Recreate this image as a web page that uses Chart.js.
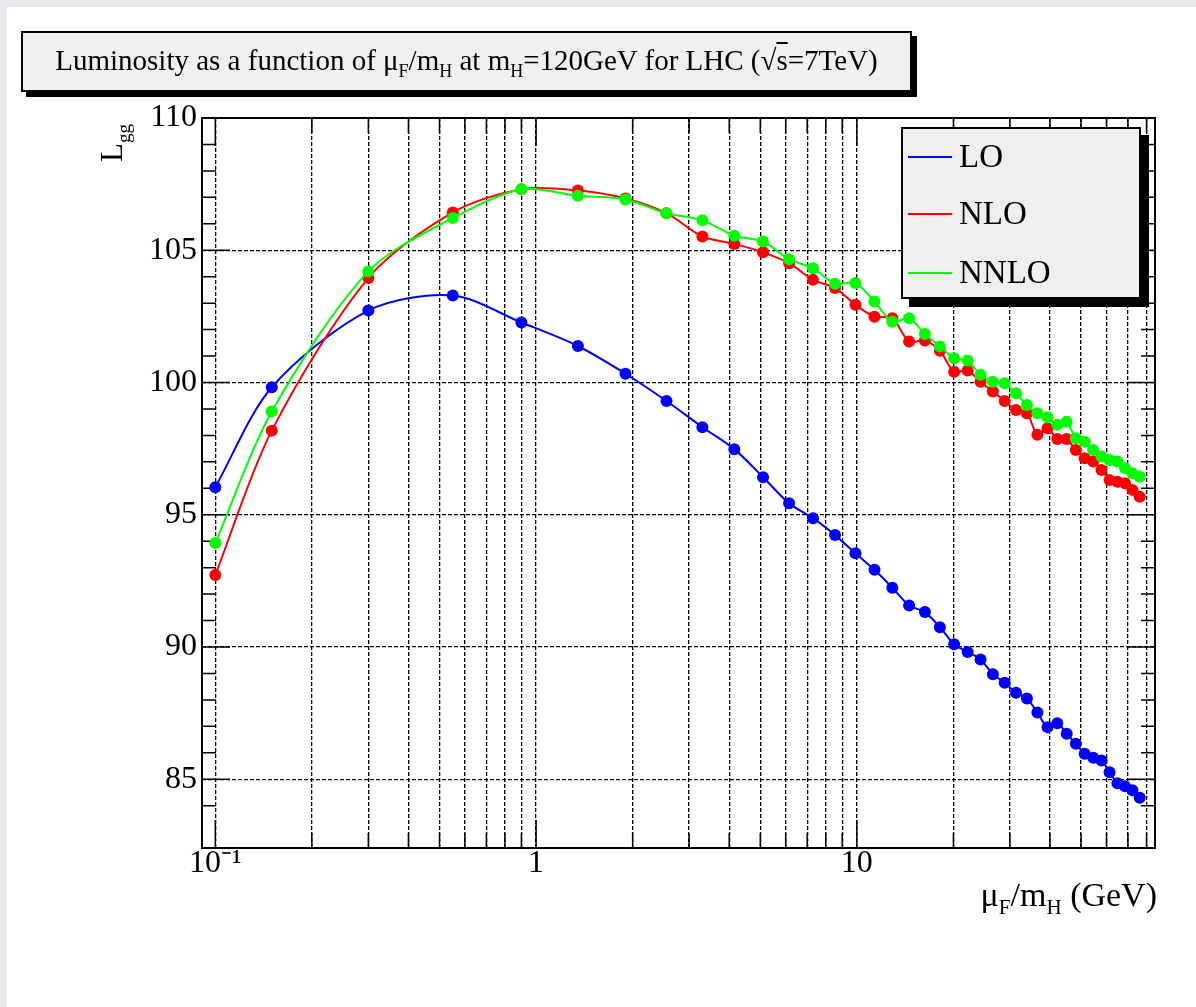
<!DOCTYPE html>
<html>
<head>
<meta charset="utf-8">
<script src="https://cdn.jsdelivr.net/npm/chart.js@4.4.1/dist/chart.umd.min.js"></script>
<style>
  body { margin: 0; background: #e6e7eb; font-family: 'Liberation Serif', serif; }
  #paper { position: absolute; left: 7px; top: 7px; right: 0; bottom: 0; background: #fff; }
  #wrap { position: absolute; left: 0; top: 0; width: 1196px; height: 1007px; }
  .sub { font-size: 0.62em; position: relative; top: 0.4em; }
  #ttl { position: absolute; left: 21px; top: 31px; width: 887px; height: 57px; border: 2px solid #000;
         background: #f0f0f0; box-shadow: 5px 5px 0 #000; font-size: 29px; line-height: 55px;
         text-align: center; white-space: nowrap; }
  #leg { position: absolute; left: 901px; top: 127px; width: 236px; height: 168px; border: 2px solid #000;
         background: #efefef; box-shadow: 8px 8px 0 #000; }
  .ln { position: absolute; left: 5px; width: 44px; height: 2px; }
  .lt { position: absolute; left: 56px; font-size: 33px; line-height: 33px; }
  #xt { position: absolute; right: 39px; top: 878px; font-size: 34px; line-height: 34px; white-space: nowrap; }
  #yt { position: absolute; left: 96px; top: 162px; font-size: 31px; line-height: 31px; white-space: nowrap;
        transform: rotate(-90deg); transform-origin: left top; }
</style>
</head>
<body>
<div id="paper"></div>
<div id="wrap"><canvas id="c"></canvas></div>
<div id="ttl">Luminosity as a function of &mu;<span class="sub">F</span>/m<span class="sub">H</span> at m<span class="sub">H</span>=120GeV for LHC (&radic;<span style="text-decoration:overline">s</span>=7TeV)</div>
<div id="leg">
  <div class="ln" style="top:27px;background:#0000ff"></div><div class="lt" style="top:11px">LO</div>
  <div class="ln" style="top:84px;background:#ff0000"></div><div class="lt" style="top:68px">NLO</div>
  <div class="ln" style="top:143px;background:#00ff00"></div><div class="lt" style="top:127px">NNLO</div>
</div>
<div id="xt">&mu;<span class="sub">F</span>/m<span class="sub">H</span> (GeV)</div>
<div id="yt">L<span class="sub">gg</span></div>
<script>
// mu_F / m_H values
const xVals = [0.1, 0.15, 0.3, 0.55, 0.9, 1.35, 1.9, 2.55, 3.3, 4.15,
  5.1, 6.15, 7.3, 8.55, 9.9, 11.35, 12.9, 14.55, 16.3, 18.15,
  20.1, 22.15, 24.3, 26.55, 28.9, 31.35, 33.9, 36.55, 39.3, 42.15,
  45.1, 48.15, 51.3, 54.55, 57.9, 61.35, 64.9, 68.55, 72.3, 76.15]

const lo = [96.04, 99.82, 102.72, 103.29, 102.27, 101.38, 100.33, 99.30, 98.31, 97.48,
  96.42, 95.43, 94.87, 94.23, 93.54, 92.92, 92.24, 91.57, 91.32, 90.75,
  90.10, 89.81, 89.53, 88.97, 88.65, 88.27, 88.05, 87.52, 86.97, 87.12,
  86.72, 86.34, 85.96, 85.81, 85.71, 85.26, 84.85, 84.73, 84.58, 84.30]

const nlo = [92.72, 98.18, 103.95, 106.43, 107.31, 107.26, 106.96, 106.40, 105.52, 105.24,
  104.92, 104.51, 103.88, 103.57, 102.94, 102.49, 102.43, 101.55, 101.59, 101.20,
  100.41, 100.45, 100.03, 99.66, 99.30, 98.96, 98.84, 98.02, 98.27, 97.86,
  97.86, 97.45, 97.14, 97.01, 96.69, 96.31, 96.25, 96.19, 95.94, 95.68]

const nnlo = [93.93, 98.90, 104.20, 106.22, 107.31, 107.06, 106.92, 106.40, 106.13, 105.55,
  105.33, 104.66, 104.32, 103.73, 103.76, 103.06, 102.30, 102.43, 101.83, 101.36,
  100.92, 100.83, 100.29, 100.03, 99.97, 99.59, 99.15, 98.84, 98.69, 98.40,
  98.52, 97.89, 97.76, 97.45, 97.20, 97.07, 97.01, 96.76, 96.57, 96.44]

// x grid positions and labelled ticks
const xTicks = [0.1, 0.2, 0.3, 0.4, 0.5, 0.6, 0.7, 0.8, 0.9,
  1, 2, 3, 4, 5, 6, 7, 8, 9, 10, 20, 30, 40, 50, 60, 70, 80]
const xLabels = { 0.1: '10\u207B\u00B9', 1: '1', 10: '10' }

function pts(ys) {
  return xVals.map((x, i) => ({ x: x, y: ys[i] }))
}

function isDecade(v) {
  let l = Math.log10(v)
  return Math.abs(l - Math.round(l)) < 1e-6
}

// frame and inward tick marks like ROOT
const frame = {
  id: 'frame',
  beforeDatasetsDraw(chart) {
    const { ctx, chartArea: a, scales: { x, y } } = chart
    ctx.save()
    ctx.strokeStyle = '#000'
    ctx.lineWidth = 1.5
    ctx.beginPath()
    x.ticks.forEach(t => {
      let px = x.getPixelForValue(t.value)
      let len = isDecade(t.value) ? 28 : 15
      ctx.moveTo(px, a.bottom); ctx.lineTo(px, a.bottom - len)
      ctx.moveTo(px, a.top); ctx.lineTo(px, a.top + len)
    })
    y.ticks.forEach(t => {
      if (t.value % 1 !== 0) return
      let py = y.getPixelForValue(t.value)
      let len = t.value % 5 === 0 ? 28 : 14
      ctx.moveTo(a.left, py); ctx.lineTo(a.left + len, py)
      ctx.moveTo(a.right, py); ctx.lineTo(a.right - len, py)
    })
    ctx.stroke()
    ctx.lineWidth = 2
    ctx.strokeRect(a.left, a.top, a.right - a.left, a.bottom - a.top)
    ctx.restore()
  }
}

function ds(label, ys, col, ord) {
  return {
    label: label, data: pts(ys), borderColor: col, backgroundColor: col,
    pointBackgroundColor: col, pointBorderWidth: 0, pointRadius: 6,
    borderWidth: 2, tension: 0.3, order: ord
  }
}

window.onload = () => {
  new Chart(document.getElementById('c'), {
    type: 'line',
    data: {
      datasets: [
        ds('LO', lo, '#0000ff', 3),
        ds('NLO', nlo, '#ff0000', 2),
        ds('NNLO', nnlo, '#00ff00', 1)
      ]
    },
    options: {
      responsive: true,
      maintainAspectRatio: false,
      animation: false,
      layout: { padding: { left: 0, top: 118, right: 41, bottom: 0 } },
      plugins: { legend: { display: false }, tooltip: { enabled: false } },
      scales: {
        x: {
          type: 'logarithmic', min: 0.0909, max: 85,
          afterBuildTicks: s => { s.ticks = xTicks.map(v => ({ value: v })) },
          afterFit: s => { s.height = 159 },
          grid: { color: '#000', lineWidth: 1.3, drawTicks: false },
          border: { display: false, dash: [4, 2] },
          ticks: {
            autoSkip: false, maxRotation: 0, padding: -4, color: '#000',
            font: { family: 'Liberation Serif', size: 32 },
            callback: v => xLabels[v] || ''
          }
        },
        y: {
          min: 82.4, max: 110,
          afterFit: s => { s.width = 202 },
          grid: {
            drawTicks: false, lineWidth: 1.3,
            color: c => (c.tick && c.tick.value % 5 === 0) ? '#000' : 'rgba(0,0,0,0)'
          },
          border: { display: false, dash: [4, 2] },
          ticks: {
            stepSize: 1, autoSkip: false, padding: 5, color: '#000',
            font: { family: 'Liberation Serif', size: 32 },
            callback: v => v % 5 === 0 ? String(v) : ''
          }
        }
      }
    },
    plugins: [frame]
  })
}
</script>
</body>
</html>
